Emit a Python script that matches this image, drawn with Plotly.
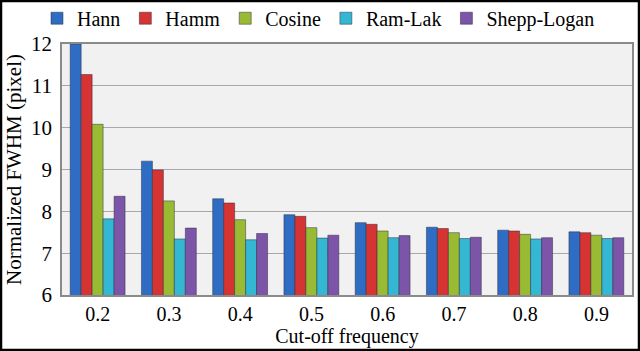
import plotly.graph_objects as go

categories = ["0.2", "0.3", "0.4", "0.5", "0.6", "0.7", "0.8", "0.9"]
hann = [12.0, 9.20, 8.30, 7.92, 7.73, 7.62, 7.55, 7.51]
hamm = [11.27, 8.99, 8.20, 7.88, 7.69, 7.59, 7.53, 7.49]
cosine = [10.08, 8.25, 7.80, 7.61, 7.53, 7.49, 7.45, 7.43]
ram_lak = [7.82, 7.34, 7.32, 7.36, 7.37, 7.35, 7.34, 7.35]
shepp_logan = [8.36, 7.60, 7.47, 7.43, 7.42, 7.38, 7.37, 7.37]

series = [
    ("Hann", hann, "#2f6cc4"),
    ("Hamm", hamm, "#d63333"),
    ("Cosine", cosine, "#98bb33"),
    ("Ram-Lak", ram_lak, "#33b7d3"),
    ("Shepp-Logan", shepp_logan, "#7c55a8"),
]

W, H = 640, 351
L, R, T, B = 62, 8, 44, 56
pw, ph = W - L - R, H - T - B

fig = go.Figure()
for name, vals, col in series:
    fig.add_trace(go.Bar(
        x=categories, y=vals, name=name,
        marker=dict(color=col, line=dict(color="rgba(40,40,60,0.6)", width=0.8)),
    ))

font = "Liberation Serif, Times New Roman, serif"
fig.update_layout(
    width=W, height=H,
    margin=dict(l=L, r=R, t=T, b=B, autoexpand=False),
    paper_bgcolor="white",
    plot_bgcolor="#f1f1f1",
    barmode="group",
    bargap=0.23,
    bargroupgap=0.0,
    font=dict(family=font, size=19, color="black"),
    legend=dict(
        orientation="h", x=0.45, xanchor="center", y=1.025, yanchor="bottom",
        font=dict(family=font, size=20), itemwidth=30, tracegroupgap=0,
        bgcolor="rgba(0,0,0,0)",
    ),
    xaxis=dict(
        title=dict(text="Cut-off frequency", font=dict(family=font, size=20), standoff=0),
        showline=True, linecolor="#8a8a8a", linewidth=1.5, mirror=True,
        ticks="", tickfont=dict(family=font, size=20),
    ),
    yaxis=dict(
        title=dict(text="Normalized FWHM (pixel)", font=dict(family=font, size=21), standoff=4),
        range=[6, 12], dtick=1,
        showline=True, linecolor="#8a8a8a", linewidth=1.5, mirror=True,
        gridcolor="#a8a8a8", gridwidth=1,
        ticks="", tickfont=dict(family=font, size=21), ticklabelstandoff=4,
    ),
    shapes=[dict(
        type="rect", xref="paper", yref="paper",
        x0=-(L - 1) / pw, x1=1 + (R - 1) / pw,
        y0=-(B - 1) / ph, y1=1 + (T - 1) / ph,
        line=dict(color="black", width=2.5),
    )],
)

fig.write_html(
    "out.html",
    config={"displayModeBar": False},
    post_script="document.body.style.margin='0';document.body.style.padding='0';",
)
